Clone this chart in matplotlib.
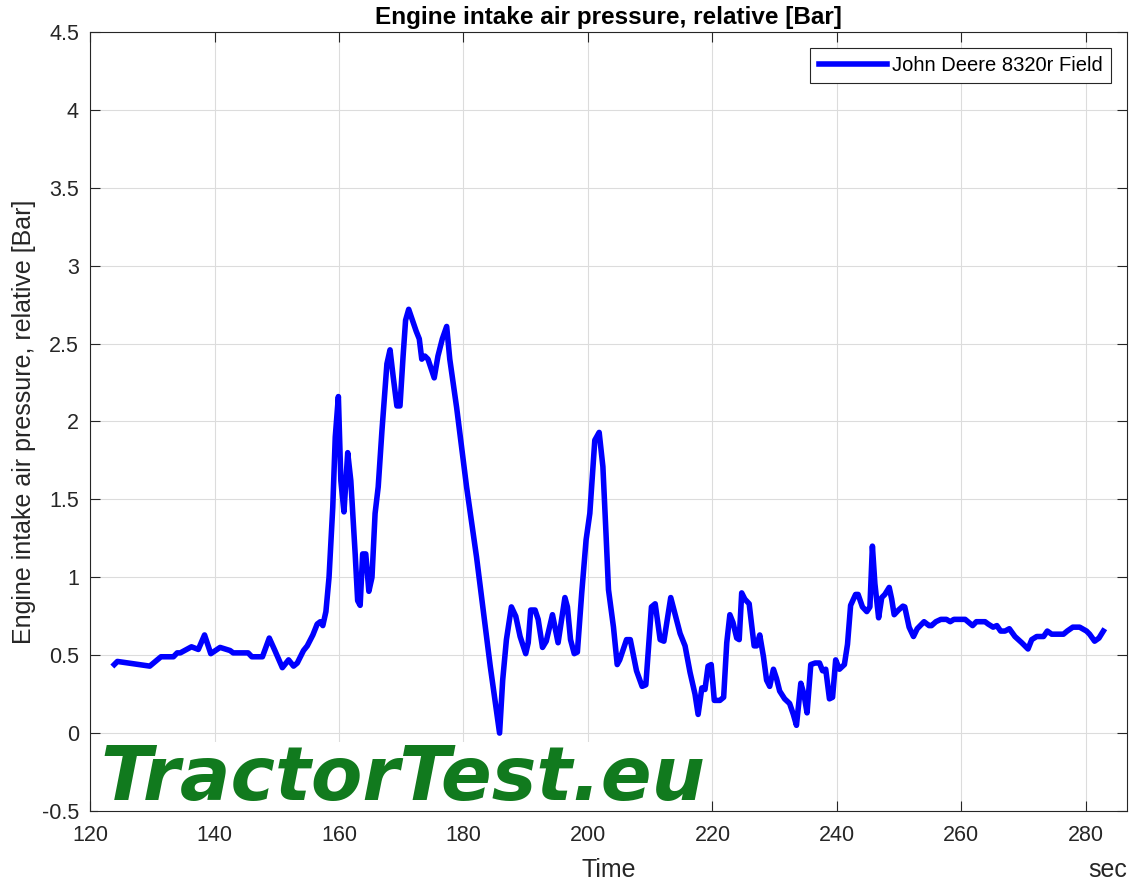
import matplotlib
matplotlib.use("Agg")
import matplotlib.pyplot as plt

time_s = [123.9, 124.4, 129.6, 131.4, 133.4, 134.0, 134.5, 135.5, 136.3, 137.4,
          138.4, 139.4, 140.9, 142.5, 143.0, 145.4, 146.0, 147.7, 148.8, 149.7,
          150.9, 151.9, 152.7, 153.3, 154.3, 154.9, 155.8, 156.5, 157.0, 157.4,
          157.9, 158.4, 159.0, 159.4, 159.9, 160.3, 160.8, 161.4, 161.9, 162.6,
          163.0, 163.4, 163.8, 164.3, 164.8, 165.3, 165.8, 166.3, 166.9, 167.7,
          168.2, 168.7, 169.3, 169.8, 170.3, 170.7, 171.2, 171.8, 172.4, 172.9,
          173.3, 173.8, 174.3, 175.3, 175.9, 176.6, 177.3, 177.8, 178.9, 180.5,
          182.1, 184.3, 185.8, 186.3, 186.9, 187.7, 188.4, 189.1, 190.0, 190.4,
          190.8, 191.5, 192.0, 192.7, 193.3, 194.3, 195.2, 196.3, 196.7, 197.2,
          197.8, 198.3, 199.0, 199.7, 200.3, 201.1, 201.8, 202.4, 202.9, 203.3,
          204.1, 204.7, 205.1, 206.2, 206.8, 207.8, 208.7, 209.3, 210.2, 210.8,
          211.6, 212.2, 213.3, 214.8, 215.6, 216.4, 217.2, 217.7, 218.3, 218.8,
          219.3, 219.8, 220.3, 221.2, 221.8, 222.3, 222.8, 223.3, 223.9, 224.3,
          224.7, 225.2, 225.9, 226.7, 227.1, 227.6, 228.2, 228.7, 229.2, 229.8,
          230.3, 230.8, 231.6, 232.4, 233.0, 233.5, 234.2, 234.7, 235.2, 235.8,
          236.5, 237.2, 237.7, 238.2, 238.8, 239.3, 239.8, 240.4, 241.2, 241.7,
          242.2, 243.0, 243.4, 244.1, 244.8, 245.3, 245.7, 246.1, 246.7, 247.2,
          247.7, 248.4, 248.8, 249.2, 249.9, 250.6, 250.9, 251.6, 252.3, 252.9,
          254.0, 254.8, 255.2, 255.9, 256.7, 257.6, 258.2, 258.8, 260.6, 261.8,
          262.4, 263.8, 264.3, 265.1, 265.7, 266.3, 267.0, 267.7, 268.6, 269.7,
          270.7, 271.3, 272.1, 273.2, 273.8, 274.5, 276.4, 277.0, 277.9, 279.0,
          280.1, 280.6, 281.4, 282.1, 282.8]

pressure_bar = [0.44, 0.46, 0.43, 0.49, 0.49, 0.515, 0.515, 0.537, 0.554, 0.537,
                0.63, 0.51, 0.55, 0.53, 0.515, 0.515, 0.49, 0.49, 0.61, 0.53,
                0.42, 0.47, 0.43, 0.45, 0.53, 0.56, 0.63, 0.70, 0.715, 0.69,
                0.78, 1.00, 1.45, 1.90, 2.16, 1.62, 1.42, 1.80, 1.62, 1.15,
                0.85, 0.82, 1.15, 1.15, 0.91, 1.00, 1.41, 1.58, 1.94, 2.37,
                2.46, 2.29, 2.10, 2.10, 2.42, 2.65, 2.72, 2.65, 2.58, 2.53,
                2.40, 2.42, 2.40, 2.28, 2.42, 2.53, 2.61, 2.40, 2.09, 1.58,
                1.13, 0.43, 0.00, 0.34, 0.60, 0.81, 0.75, 0.62, 0.51, 0.58,
                0.79, 0.79, 0.73, 0.55, 0.59, 0.76, 0.58, 0.87, 0.81, 0.60,
                0.51, 0.52, 0.90, 1.24, 1.41, 1.88, 1.93, 1.71, 1.28, 0.92,
                0.68, 0.44, 0.47, 0.60, 0.60, 0.40, 0.30, 0.31, 0.81, 0.83,
                0.60, 0.59, 0.87, 0.64, 0.56, 0.39, 0.25, 0.12, 0.29, 0.28,
                0.43, 0.44, 0.21, 0.21, 0.23, 0.58, 0.76, 0.71, 0.61, 0.60,
                0.90, 0.86, 0.83, 0.56, 0.56, 0.63, 0.49, 0.34, 0.30, 0.41,
                0.35, 0.27, 0.22, 0.19, 0.12, 0.05, 0.32, 0.25, 0.13, 0.44,
                0.45, 0.45, 0.40, 0.41, 0.22, 0.23, 0.47, 0.41, 0.44, 0.57,
                0.82, 0.89, 0.89, 0.81, 0.78, 0.81, 1.20, 0.96, 0.74, 0.87,
                0.89, 0.935, 0.86, 0.76, 0.79, 0.815, 0.81, 0.68, 0.62, 0.67,
                0.715, 0.69, 0.69, 0.715, 0.73, 0.73, 0.715, 0.73, 0.73, 0.69,
                0.715, 0.715, 0.70, 0.68, 0.69, 0.655, 0.655, 0.67, 0.62, 0.58,
                0.54, 0.60, 0.62, 0.62, 0.655, 0.635, 0.635, 0.655, 0.68, 0.68,
                0.655, 0.635, 0.59, 0.61, 0.655]

x_ticks = [120, 140, 160, 180, 200, 220, 240, 260, 280]
y_ticks = [-0.5, 0, 0.5, 1, 1.5, 2, 2.5, 3, 3.5, 4, 4.5]
y_tick_labels = ["-0.5", "0", "0.5", "1", "1.5", "2", "2.5", "3", "3.5", "4", "4.5"]

plt.rcParams["font.family"] = ["Liberation Sans", "DejaVu Sans"]
dark = "#262626"

fig = plt.figure(figsize=(11.41, 8.93), dpi=100)
ax = fig.add_axes([0.0789, 0.0918, 0.9088, 0.8724])

ax.plot(time_s, pressure_bar, color="#0000ff", linewidth=4,
        solid_joinstyle="round", label="John Deere 8320r Field", zorder=3)

ax.set_xlim(120, 286.6)
ax.set_ylim(-0.5, 4.5)
ax.set_xticks(x_ticks)
ax.set_yticks(y_ticks)
ax.set_yticklabels(y_tick_labels)
ax.grid(True, color="#dcdcdc", linewidth=0.8)
ax.set_axisbelow(True)
ax.tick_params(direction="in", length=7.5, width=0.8, labelsize=15.5,
               top=True, right=True, colors=dark)
ax.tick_params(axis="x", pad=10)
ax.tick_params(axis="y", pad=8)
for s in ax.spines.values():
    s.set_color(dark)
    s.set_linewidth(0.8)

ax.set_title("Engine intake air pressure, relative [Bar]", fontsize=17.5,
             fontweight="bold", pad=6)
ax.set_ylabel("Engine intake air pressure, relative [Bar]", fontsize=18,
              color=dark, labelpad=4)
fig.text(0.5333, 16 / 893, "Time", fontsize=18, color=dark,
         ha="center", va="baseline")
fig.text(1127 / 1141, 16 / 893, "sec", fontsize=18, color=dark,
         ha="right", va="baseline")

leg = ax.legend(loc="upper right", fontsize=14.5, frameon=True, fancybox=False,
                handlelength=3.4, handletextpad=0.25, borderpad=0.4,
                borderaxespad=0.8)
leg.get_frame().set_edgecolor(dark)
leg.get_frame().set_linewidth(0.8)
leg.get_frame().set_alpha(1)

ax.text(0.0096, 0.0141, "TractorTest.eu", transform=ax.transAxes,
        fontsize=54, fontweight="bold", fontstyle="italic",
        family="DejaVu Sans", color="#117a1e",
        ha="left", va="baseline", zorder=2.2,
        bbox=dict(facecolor="white", edgecolor="none", pad=1))

fig.savefig("out.png", dpi=100)
